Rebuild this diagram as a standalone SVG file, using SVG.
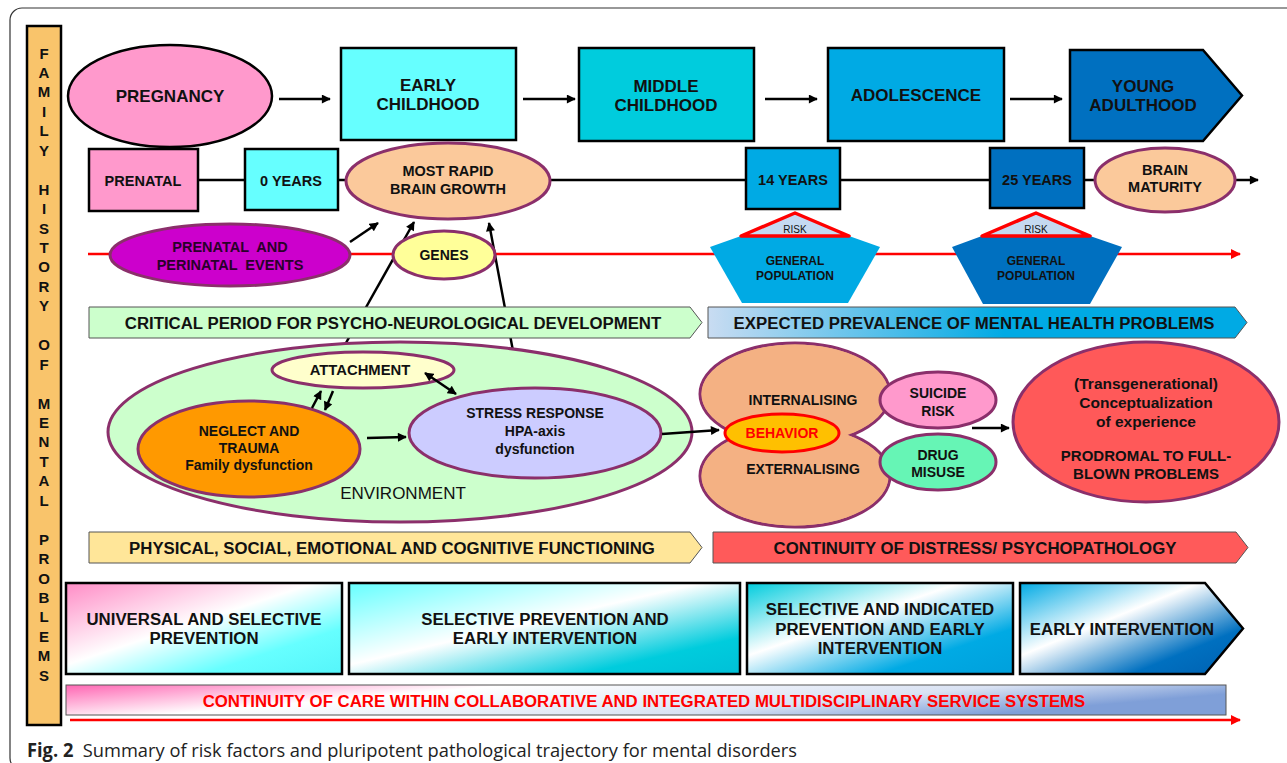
<svg xmlns="http://www.w3.org/2000/svg" width="1287" height="763" viewBox="0 0 1287 763">
<defs>
<style>
text{font-family:"Liberation Sans",Arial,sans-serif;font-weight:bold;fill:#111;text-anchor:middle;dominant-baseline:central}
.box{stroke:#000;stroke-width:2.5}
.ov{stroke:#8B2F6B;stroke-width:3}
.ban{stroke:#555;stroke-width:1}
.conn{stroke:#000;stroke-width:2.5;fill:none}
.fam{font-size:15px}
.t16{font-size:17px}
.tb{font-size:16.8px}
.t13{font-size:14.5px}
.t12{font-size:12px}
.t14{font-size:14px}
.t15{font-size:15.5px}
.red{fill:#f00}
.dk{fill:#2a002a}
.risk{font-size:10px;font-weight:normal}
</style>
<marker id="ah" viewBox="0 0 10 10" refX="9" refY="5" markerWidth="10" markerHeight="9" markerUnits="userSpaceOnUse" orient="auto-start-reverse"><path d="M0,0 L10,5 L0,10 z" fill="#000"/></marker>
<marker id="ahr" viewBox="0 0 10 10" refX="9" refY="5" markerWidth="12" markerHeight="10" markerUnits="userSpaceOnUse" orient="auto"><path d="M0,0 L10,5 L0,10 z" fill="#f00"/></marker>
<linearGradient id="gExp" x1="0" y1="0" x2="1" y2="0"><stop offset="0" stop-color="#C9DCF2"/><stop offset="0.55" stop-color="#00AAE4"/><stop offset="1" stop-color="#00AAE4"/></linearGradient>
<linearGradient id="gB1" x1="0" y1="0" x2="1" y2="1"><stop offset="0" stop-color="#FF8CC6"/><stop offset="0.45" stop-color="#FFFFFF"/><stop offset="0.75" stop-color="#66FFFF"/><stop offset="1" stop-color="#55F5FA"/></linearGradient>
<linearGradient id="gB2" x1="0" y1="0" x2="1" y2="1"><stop offset="0" stop-color="#66FFFF"/><stop offset="0.45" stop-color="#FFFFFF"/><stop offset="0.8" stop-color="#00CCDD"/><stop offset="1" stop-color="#00C0D8"/></linearGradient>
<linearGradient id="gB3" x1="0" y1="0" x2="1" y2="1"><stop offset="0" stop-color="#00CCDD"/><stop offset="0.4" stop-color="#FFFFFF"/><stop offset="0.75" stop-color="#00AAE4"/><stop offset="1" stop-color="#00A0DC"/></linearGradient>
<linearGradient id="gB4" x1="0" y1="0" x2="1" y2="1"><stop offset="0" stop-color="#00AAE4"/><stop offset="0.4" stop-color="#FFFFFF"/><stop offset="0.75" stop-color="#0070C0"/><stop offset="1" stop-color="#0060B0"/></linearGradient>
<linearGradient id="gCare" x1="0" y1="0" x2="1" y2="0.3"><stop offset="0" stop-color="#FF66B3"/><stop offset="0.35" stop-color="#FFFFFF"/><stop offset="0.75" stop-color="#D9E2F3"/><stop offset="1" stop-color="#7F9FD8"/></linearGradient>
</defs>
<rect x="10" y="8" width="1300" height="762" rx="12" fill="#fff" stroke="#333" stroke-width="1.2"/>

<g id="family-history">
<rect x="27" y="26" width="34" height="699" fill="#F9C46B" stroke="#000" stroke-width="2.5"/>
<text class="fam" x="44" y="53">F</text><text class="fam" x="44" y="72.4">A</text><text class="fam" x="44" y="91.9">M</text><text class="fam" x="44" y="111.3">I</text><text class="fam" x="44" y="130.8">L</text><text class="fam" x="44" y="150.2">Y</text>
<text class="fam" x="44" y="189.1">H</text><text class="fam" x="44" y="208.6">I</text><text class="fam" x="44" y="228">S</text><text class="fam" x="44" y="247.5">T</text><text class="fam" x="44" y="266.9">O</text><text class="fam" x="44" y="286.3">R</text><text class="fam" x="44" y="305.8">Y</text>
<text class="fam" x="44" y="344.7">O</text><text class="fam" x="44" y="364.1">F</text>
<text class="fam" x="44" y="403">M</text><text class="fam" x="44" y="422.4">E</text><text class="fam" x="44" y="441.9">N</text><text class="fam" x="44" y="461.3">T</text><text class="fam" x="44" y="480.8">A</text><text class="fam" x="44" y="500.2">L</text>
<text class="fam" x="44" y="539.1">P</text><text class="fam" x="44" y="558.6">R</text><text class="fam" x="44" y="578">O</text><text class="fam" x="44" y="597.5">B</text><text class="fam" x="44" y="616.9">L</text><text class="fam" x="44" y="636.3">E</text><text class="fam" x="44" y="655.8">M</text><text class="fam" x="44" y="675.2">S</text>
</g>

<g id="connectors">
<line x1="198" y1="180" x2="1258" y2="180" stroke="#000" stroke-width="2.5" marker-end="url(#ah)"/>
<line x1="88" y1="254" x2="1240" y2="254" stroke="#f00" stroke-width="2.5" marker-end="url(#ahr)"/>
<line x1="70" y1="720" x2="1240" y2="720" stroke="#f00" stroke-width="2.5" marker-end="url(#ahr)"/>
<line class="conn" x1="279" y1="99" x2="330" y2="99" marker-end="url(#ah)"/>
<line class="conn" x1="523" y1="99" x2="575" y2="99" marker-end="url(#ah)"/>
<line class="conn" x1="765" y1="99" x2="817" y2="99" marker-end="url(#ah)"/>
<line class="conn" x1="1010" y1="99" x2="1062" y2="99" marker-end="url(#ah)"/>
<line class="conn" x1="350" y1="242" x2="378" y2="223" marker-end="url(#ah)"/>
<line class="conn" x1="342" y1="350" x2="414" y2="222" marker-end="url(#ah)"/>
<line class="conn" x1="519" y1="383" x2="489" y2="223" marker-end="url(#ah)"/>
</g>

<g id="pregnancy"><ellipse cx="170" cy="96" rx="102" ry="51" fill="#FF99CC" class="box"/><text class="t16" x="170" y="96">PREGNANCY</text></g>
<g id="early-childhood"><rect x="341" y="48" width="175" height="92" fill="#66FFFF" class="box"/><text class="t16" x="428" y="85">EARLY</text><text class="t16" x="428" y="104">CHILDHOOD</text></g>
<g id="middle-childhood"><rect x="579" y="48" width="175" height="93" fill="#00CCDD" class="box"/><text class="t16" x="666" y="86">MIDDLE</text><text class="t16" x="666" y="105">CHILDHOOD</text></g>
<g id="adolescence"><rect x="828" y="48" width="176" height="93" fill="#00AAE4" class="box"/><text class="t16" x="916" y="95">ADOLESCENCE</text></g>
<g id="young-adulthood"><path d="M1070,50 L1203,50 L1242,95.5 L1203,141 L1070,141 Z" fill="#0070C0" class="box"/><text class="t16" x="1143" y="86">YOUNG</text><text class="t16" x="1143" y="105">ADULTHOOD</text></g>

<g id="prenatal"><rect x="89" y="149" width="109" height="62" fill="#FF99CC" class="box"/><text class="t13" x="143" y="181">PRENATAL</text></g>
<g id="zero-years"><rect x="245" y="149" width="93" height="61" fill="#66FFFF" class="box"/><text class="t13" x="291" y="181">0 YEARS</text></g>
<g id="brain-growth"><ellipse cx="448" cy="181" rx="102" ry="38" fill="#FBC99B" class="ov"/><text class="t13" x="448" y="171">MOST RAPID</text><text class="t13" x="448" y="189">BRAIN GROWTH</text></g>
<g id="fourteen-years"><rect x="746" y="148" width="94" height="61" fill="#00AAE4" class="box"/><text class="t13" x="793" y="180">14 YEARS</text></g>
<g id="twentyfive-years"><rect x="990" y="148" width="94" height="60" fill="#0070C0" class="box"/><text class="t13" x="1037" y="180">25 YEARS</text></g>
<g id="brain-maturity"><ellipse cx="1165" cy="180" rx="70" ry="32" fill="#FBC99B" class="ov"/><text class="t13" x="1165" y="170">BRAIN</text><text class="t13" x="1165" y="187">MATURITY</text></g>

<g id="prenatal-events"><ellipse cx="230" cy="255" rx="120" ry="31" fill="#CC00CC" class="ov"/><text class="t13 dk" x="230" y="247" xml:space="preserve">PRENATAL  AND</text><text class="t13 dk" x="230" y="265" xml:space="preserve">PERINATAL  EVENTS</text></g>
<g id="genes"><ellipse cx="444" cy="255" rx="51" ry="24" fill="#FFFF99" class="ov"/><text x="444" y="255" style="font-size:14px">GENES</text></g>

<g id="risk-14">
<path d="M741,236 L849,236 L880,247 L848,303 L742,303 L710,247 Z" fill="#00AAE4"/>
<path d="M795,213 L849,236 L741,236 Z" fill="#C5D9F1" stroke="#f00" stroke-width="3.5" stroke-linejoin="round"/>
<text class="risk" x="795" y="229">RISK</text>
<text class="t12" x="795" y="261">GENERAL</text><text class="t12" x="795" y="276">POPULATION</text>
</g>
<g id="risk-25">
<path d="M982,236 L1090,236 L1122,247 L1090,304 L983,304 L952,247 Z" fill="#0070C0"/>
<path d="M1036,213 L1090,236 L982,236 Z" fill="#C5D9F1" stroke="#f00" stroke-width="3.5" stroke-linejoin="round"/>
<text class="risk" x="1036" y="229">RISK</text>
<text class="t12" x="1036" y="261">GENERAL</text><text class="t12" x="1036" y="276">POPULATION</text>
</g>

<g id="critical-period"><path d="M89,307 L690,307 L702,322.5 L690,338 L89,338 Z" fill="#CCFFCC" class="ban"/><text class="tb" x="393" y="323">CRITICAL PERIOD FOR PSYCHO-NEUROLOGICAL DEVELOPMENT</text></g>
<g id="expected-prevalence"><path d="M708,307 L1235,307 L1247,322.5 L1235,338 L708,338 Z" fill="url(#gExp)" class="ban"/><text class="tb" x="974" y="323">EXPECTED PREVALENCE OF MENTAL HEALTH PROBLEMS</text></g>

<g id="environment"><ellipse cx="400" cy="432" rx="292" ry="90" fill="#CCFFCC" class="ov"/><text x="403" y="493" style="font-size:17px;font-weight:normal">ENVIRONMENT</text></g>
<g id="attachment"><ellipse cx="363" cy="370" rx="91" ry="18" fill="#FFFFCC" class="ov"/><text x="360" y="370" style="font-size:14.8px">ATTACHMENT</text></g>
<g id="neglect"><ellipse cx="249" cy="449" rx="111" ry="48" fill="#FF9900" class="ov"/><text class="t14" x="249" y="431">NEGLECT AND</text><text class="t14" x="249" y="448">TRAUMA</text><text class="t14" x="249" y="465">Family dysfunction</text></g>
<g id="stress-response"><ellipse cx="535" cy="433" rx="126" ry="45" fill="#CCCCFF" class="ov"/><text class="t14" x="535" y="413">STRESS RESPONSE</text><text class="t14" x="535" y="431">HPA-axis</text><text class="t14" x="535" y="449">dysfunction</text></g>

<g id="env-connectors">
<line class="conn" x1="312" y1="408" x2="321" y2="391" marker-end="url(#ah)"/>
<line class="conn" x1="333" y1="391" x2="325" y2="410" marker-end="url(#ah)"/>
<line class="conn" x1="425" y1="373" x2="456" y2="394" marker-start="url(#ah)" marker-end="url(#ah)"/>
<line class="conn" x1="367" y1="438" x2="406" y2="437" marker-end="url(#ah)"/>
<line class="conn" x1="662" y1="434" x2="719" y2="430" marker-end="url(#ah)"/>
<line class="conn" x1="972" y1="428" x2="1009" y2="428" marker-end="url(#ah)"/>
</g>

<g id="behavior-cluster">
<ellipse cx="795" cy="394" rx="95" ry="51" fill="#F4B183" class="ov"/>
<ellipse cx="795" cy="476" rx="95" ry="51" fill="#F4B183" class="ov"/>
<ellipse cx="795" cy="394" rx="93.5" ry="49.5" fill="#F4B183"/>
<ellipse cx="795" cy="476" rx="93.5" ry="49.5" fill="#F4B183"/>
<text class="t14" x="803" y="400">INTERNALISING</text>
<text class="t14" x="803" y="469">EXTERNALISING</text>
<ellipse cx="782" cy="433" rx="57" ry="19" fill="#FFC000" stroke="#f00" stroke-width="3"/>
<text class="t14 red" x="782" y="433">BEHAVIOR</text>
</g>
<g id="suicide-risk"><ellipse cx="938" cy="400" rx="58" ry="28" fill="#FF99CC" class="ov"/><text class="t14" x="938" y="393">SUICIDE</text><text class="t14" x="938" y="411">RISK</text></g>
<g id="drug-misuse"><ellipse cx="938" cy="462" rx="58" ry="28" fill="#66F5B5" class="ov"/><text class="t14" x="938" y="455">DRUG</text><text class="t14" x="938" y="472">MISUSE</text></g>
<g id="conceptualization"><ellipse cx="1146" cy="422" rx="133" ry="80" fill="#FF5959" class="ov"/><text class="t15" x="1146" y="383">(Transgenerational)</text><text class="t15" x="1146" y="402">Conceptualization</text><text class="t15" x="1146" y="421">of experience</text><text x="1146" y="455" style="font-size:15px">PRODROMAL TO FULL-</text><text x="1146" y="473" style="font-size:15px">BLOWN PROBLEMS</text></g>

<g id="functioning"><path d="M89,532 L690,532 L702,547.5 L690,563 L89,563 Z" fill="#FFE699" class="ban"/><text class="tb" x="392" y="548">PHYSICAL, SOCIAL, EMOTIONAL AND COGNITIVE FUNCTIONING</text></g>
<g id="distress"><path d="M713,532 L1236,532 L1248,547.5 L1236,563 L713,563 Z" fill="#FF5A5A" class="ban"/><text class="tb" x="975" y="548">CONTINUITY OF DISTRESS/ PSYCHOPATHOLOGY</text></g>

<g id="prev-universal"><rect x="66" y="583" width="276" height="91" fill="url(#gB1)" class="box"/><text class="tb" x="204" y="619">UNIVERSAL AND SELECTIVE</text><text class="tb" x="204" y="638">PREVENTION</text></g>
<g id="prev-selective"><rect x="349" y="583" width="391" height="91" fill="url(#gB2)" class="box"/><text class="tb" x="545" y="619">SELECTIVE PREVENTION AND</text><text class="tb" x="545" y="638">EARLY INTERVENTION</text></g>
<g id="prev-indicated"><rect x="747" y="583" width="266" height="91" fill="url(#gB3)" class="box"/><text class="tb" x="880" y="609">SELECTIVE AND INDICATED</text><text class="tb" x="880" y="629">PREVENTION AND EARLY</text><text class="tb" x="880" y="648">INTERVENTION</text></g>
<g id="early-intervention"><path d="M1020,583 L1205,583 L1243,628.5 L1205,674 L1020,674 Z" fill="url(#gB4)" class="box"/><text class="tb" x="1122" y="629">EARLY INTERVENTION</text></g>

<g id="continuity-care"><rect x="66" y="685" width="1160" height="30" fill="url(#gCare)" stroke="#555" stroke-width="1"/><text class="tb red" x="644" y="701">CONTINUITY OF CARE WITHIN COLLABORATIVE AND INTEGRATED MULTIDISCIPLINARY SERVICE SYSTEMS</text></g>

<text x="27" y="750" xml:space="preserve" style="font-family:'Open Sans','Noto Sans',sans-serif;font-size:19px;font-weight:normal;text-anchor:start;fill:#222" textLength="770" lengthAdjust="spacingAndGlyphs"><tspan style="font-weight:bold">Fig. 2</tspan>  Summary of risk factors and pluripotent pathological trajectory for mental disorders</text>
</svg>
